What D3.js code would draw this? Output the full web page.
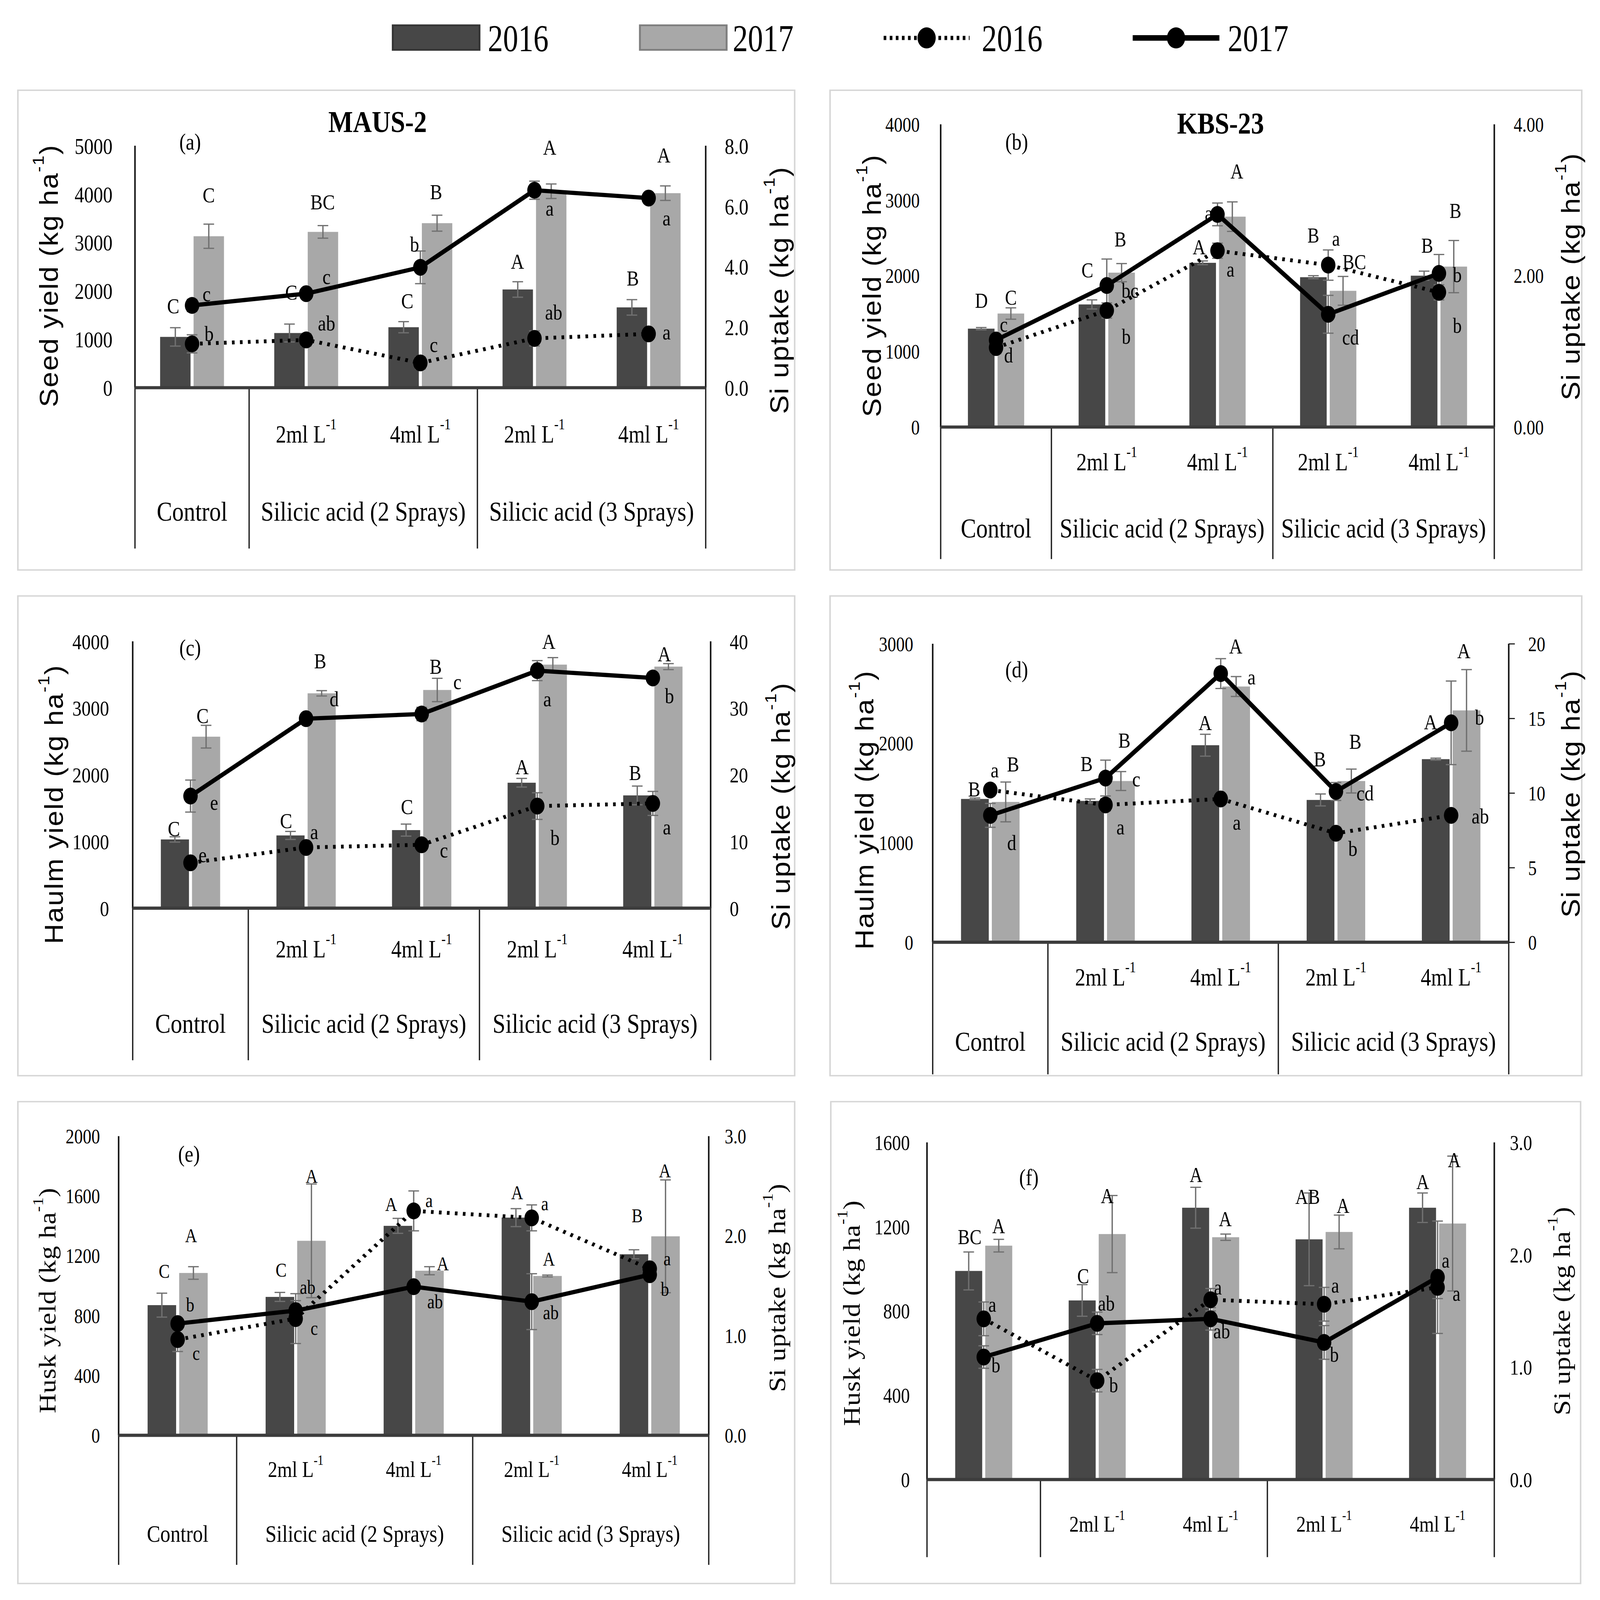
<!DOCTYPE html>
<html>
<head>
<meta charset="utf-8">
<script src="https://cdn.jsdelivr.net/npm/d3@7"></script>
<style>
  html, body { margin: 0; padding: 0; background: #fff; overflow: hidden; }
  #chart svg { display: block; width: 100vw; height: 100vh; }
</style>
</head>
<body>
<div id="chart"></div>
<script>
// ---- categories and labels ----
const categories = ['Control', '2ml 2S', '4ml 2S', '2ml 3S', '4ml 3S'];
const doseLabels = ['', '2ml L', '4ml L', '2ml L', '4ml L'];
const treatmentGroups = [
  { text: 'Control', from: 0, to: 0 },
  { text: 'Silicic acid (2 Sprays)', from: 1, to: 2 },
  { text: 'Silicic acid (3 Sprays)', from: 3, to: 4 }
];
const legendYears = ['2016', '2017'];

// ---- (a) seed yield, MAUS-2 ----
const seedMaus2016 = [1050, 1130, 1250, 2030, 1660];
const seedMaus2017 = [3130, 3220, 3400, 4060, 4020];
const seedMausErr2016 = [190, 185, 115, 160, 160];
const seedMausErr2017 = [250, 130, 165, 150, 150];
const siSeedMaus2016 = [1.45, 1.58, 0.82, 1.63, 1.78];
const siSeedMaus2017 = [2.72, 3.11, 3.98, 6.53, 6.27];
const siSeedMausErr2016 = [0.3, 0.2, 0.2, 0.25, 0.1];
const siSeedMausErr2017 = [0.2, 0.15, 0.54, 0.3, 0.15];
const lettersSeedMaus = [
  ['C', 0, 0.55, 3980], ['BC', 1, 0.54, 3834], ['B', 2, 0.52, 4045], ['A', 3, 0.5, 4968], ['A', 4, 0.5, 4809],
  ['C', 0, -0.62, 1688], ['C', 1, -0.49, 1975], ['C', 2, -0.43, 1796], ['A', 3, -0.56, 2611], ['B', 4, -0.52, 2261],
  ['c', 0, 0.48, 1943], ['b', 0, 0.56, 1115], ['c', 1, 0.67, 2293], ['ab', 1, 0.67, 1338], ['b', 2, -0.19, 2962],
  ['c', 2, 0.44, 892], ['a', 3, 0.5, 3707], ['ab', 3, 0.63, 1560], ['a', 4, 0.59, 3503], ['a', 4, 0.59, 1146]
];

// ---- (b) seed yield, KBS-23 ----
const seedKbs2016 = [1300, 1620, 2170, 1980, 2000];
const seedKbs2017 = [1500, 2040, 2780, 1800, 2120];
const seedKbsErr2016 = [15, 60, 25, 20, 60];
const seedKbsErr2017 = [75, 120, 195, 190, 345];
const siSeedKbs2016 = [1.05, 1.54, 2.33, 2.14, 1.78];
const siSeedKbs2017 = [1.15, 1.87, 2.81, 1.49, 2.03];
const siSeedKbsErr2016 = [0.08, 0.1, 0.1, 0.2, 0.1];
const siSeedKbsErr2017 = [0.05, 0.35, 0.15, 0.25, 0.25];
const lettersSeedKbs = [
  ['D', 0, -0.55, 1669], ['C', 0, 0.56, 1710], ['c', 0, 0.29, 1355], ['d', 0, 0.47, 947],
  ['C', 1, -0.73, 2069], ['B', 1, 0.51, 2478], ['bc', 1, 0.87, 1804], ['b', 1, 0.73, 1192],
  ['A', 2, 0.73, 3376], ['a', 2, -0.33, 2824], ['A', 2, -0.69, 2376], ['a', 2, 0.49, 2078],
  ['B', 3, -0.56, 2527], ['a', 3, 0.29, 2490], ['BC', 3, 0.98, 2180], ['cd', 3, 0.84, 1180],
  ['B', 4, 0.62, 2853], ['B', 4, -0.44, 2396], ['b', 4, 0.69, 2008], ['b', 4, 0.69, 1335]
];

// ---- (c) haulm yield, MAUS-2 ----
const haulmMaus2016 = [1030, 1090, 1170, 1880, 1690];
const haulmMaus2017 = [2570, 3220, 3270, 3650, 3620];
const haulmMausErr2016 = [40, 60, 90, 65, 140];
const haulmMausErr2017 = [170, 40, 175, 105, 45];
const siHaulmMaus2016 = [6.8, 9.1, 9.5, 15.3, 15.7];
const siHaulmMaus2017 = [16.8, 28.4, 29.1, 35.6, 34.5];
const siHaulmMausErr2016 = [0.5, 0.8, 0.8, 2.0, 1.8];
const siHaulmMausErr2017 = [2.4, 0.8, 1.0, 1.5, 0.8];
const lettersHaulmMaus = [
  ['C', 0, 0.43, 2884], ['e', 0, 0.84, 1588], ['C', 0, -0.59, 1194], ['e', 0, 0.43, 801],
  ['B', 1, 0.5, 3704], ['d', 1, 1.0, 3139], ['C', 1, -0.71, 1310], ['a', 1, 0.29, 1148],
  ['B', 2, 0.5, 3625], ['c', 2, 1.27, 3394], ['C', 2, -0.52, 1519], ['c', 2, 0.79, 870],
  ['A', 3, 0.41, 3995], ['a', 3, 0.36, 3139], ['A', 3, -0.54, 2120], ['b', 3, 0.63, 1056],
  ['A', 4, 0.41, 3810], ['b', 4, 0.59, 3185], ['B', 4, -0.63, 2028], ['a', 4, 0.5, 1218]
];

// ---- (d) haulm yield, KBS-23 ----
const haulmKbs2016 = [1440, 1420, 1980, 1430, 1840];
const haulmKbs2017 = [1410, 1620, 2570, 1620, 2330];
const haulmKbsErr2016 = [10, 20, 110, 60, 10];
const haulmKbsErr2017 = [200, 95, 100, 120, 410];
const siHaulmKbs2016 = [10.2, 9.2, 9.6, 7.3, 8.5];
const siHaulmKbs2017 = [8.5, 11.0, 18.0, 10.1, 14.7];
const siHaulmKbsErr2016 = [0.3, 0.4, 0.3, 0.4, 0.3];
const siHaulmKbsErr2017 = [0.8, 1.2, 1.0, 0.6, 2.8];
const lettersHaulmKbs = [
  ['a', 0, 0.16, 1733], ['B', 0, 0.82, 1789], ['B', 0, -0.58, 1540], ['d', 0, 0.77, 1003],
  ['B', 1, -0.68, 1795], ['B', 1, 0.68, 2028], ['c', 1, 1.11, 1640], ['a', 1, 0.54, 1158],
  ['A', 2, 0.54, 2975], ['a', 2, 1.11, 2665], ['A', 2, -0.56, 2205], ['a', 2, 0.58, 1205],
  ['B', 3, -0.58, 1842], ['B', 3, 0.7, 2019], ['cd', 3, 1.05, 1500], ['b', 3, 0.61, 941],
  ['A', 4, 0.46, 2929], ['b', 4, 1.02, 2261], ['A', 4, -0.74, 2214], ['ab', 4, 1.05, 1267]
];

// ---- (e) husk yield, MAUS-2 ----
const huskMaus2016 = [870, 925, 1400, 1455, 1210];
const huskMaus2017 = [1085, 1300, 1100, 1065, 1330];
const huskMausErr2016 = [80, 30, 50, 60, 30];
const huskMausErr2017 = [42, 380, 27, 6, 377];
const siHuskMaus2016 = [0.96, 1.17, 2.25, 2.18, 1.67];
const siHuskMaus2017 = [1.12, 1.25, 1.49, 1.34, 1.61];
const siHuskMausErr2016 = [0.12, 0.25, 0.2, 0.13, 0.05];
const siHuskMausErr2017 = [0.05, 0.1, 0.05, 0.28, 0.05];
const lettersHuskMaus = [
  ['A', 0, 0.47, 1335], ['C', 0, -0.47, 1098], ['b', 0, 0.44, 874], ['c', 0, 0.65, 549],
  ['A', 1, 0.56, 1734], ['C', 1, -0.51, 1105], ['ab', 1, 0.42, 990], ['c', 1, 0.65, 717],
  ['A', 2, -0.79, 1545], ['a', 2, 0.54, 1572], ['A', 2, 1.02, 1147], ['ab', 2, 0.75, 895],
  ['A', 3, -0.51, 1623], ['a', 3, 0.46, 1551], ['A', 3, 0.6, 1178], ['ab', 3, 0.67, 822],
  ['A', 4, 0.53, 1769], ['B', 4, -0.44, 1468], ['a', 4, 0.61, 1182], ['b', 4, 0.53, 979]
];

// ---- (f) husk yield, KBS-23 ----
const huskKbs2016 = [990, 850, 1290, 1140, 1290];
const huskKbs2017 = [1110, 1165, 1150, 1175, 1215];
const huskKbsErr2016 = [90, 75, 97, 220, 70];
const huskKbsErr2017 = [30, 183, 15, 80, 320];
const siHuskKbs2016 = [1.43, 0.88, 1.60, 1.56, 1.71];
const siHuskKbs2017 = [1.09, 1.39, 1.43, 1.22, 1.80];
const siHuskKbsErr2016 = [0.15, 0.1, 0.1, 0.15, 0.1];
const siHuskKbsErr2017 = [0.1, 0.1, 0.1, 0.15, 0.5];
const lettersHuskKbs = [
  ['BC', 0, -0.52, 1150], ['A', 0, 0.55, 1202], ['a', 0, 0.32, 830], ['b', 0, 0.45, 543],
  ['C', 1, -0.52, 964], ['A', 1, 0.37, 1344], ['ab', 1, 0.34, 835], ['b', 1, 0.61, 448],
  ['A', 2, -0.54, 1445], ['A', 2, 0.54, 1235], ['a', 2, 0.27, 912], ['ab', 2, 0.41, 704],
  ['AB', 3, -0.61, 1341], ['A', 3, 0.7, 1299], ['a', 3, 0.41, 920], ['b', 3, 0.38, 592],
  ['A', 4, -0.55, 1411], ['A', 4, 0.62, 1515], ['a', 4, 0.3, 1039], ['a', 4, 0.7, 882]
];

// ---- styling ----
// the drawing is laid out on the reference's 4208 x 4556 frame and the viewBox fits it to the window
const W = 4208, H = 4556;
const DARK = '#474747', LIGHT = '#a8a8a8', ERR = '#707070';
const SERIF = "'Liberation Serif', 'Times New Roman', serif";
const SANS = "'Liberation Sans', Arial, sans-serif";
const SX = 0.78; // the figure's text is horizontally condensed

// panel layout (pixel frame of each sub-chart)
const panels = [
  { box: [47, 257, 2090, 1623], axL: 355, axR: 1856, top: 415, base: 1104, catBottom: 1562,
    yMax: 5000, yStep: 1000, rMax: 8, rStep: 2, rFmt: '.1f', leftLabelX: 296, rightLabelX: 1906, tickSize: 64,
    bars16: seedMaus2016, bars17: seedMaus2017, err16: seedMausErr2016, err17: seedMausErr2017,
    si16: siSeedMaus2016, si17: siSeedMaus2017, siErr16: siSeedMausErr2016, siErr17: siSeedMausErr2017,
    letters: lettersSeedMaus, barW: 80, letterSize: 62,
    title: 'MAUS-2', titleX: 993, titleY: 347, tag: '(a)', tagX: 500, tagY: 404,
    subY: 1236, groupY: 1456, subSize: 70, groupSize: 78,
    leftTitle: 'Seed yield', leftTX: 128, leftTY: 785, rightTX: 2050, rightTY: 826, titleFont: SANS },
  { box: [2183, 257, 4160, 1623], axL: 2474, axR: 3930, top: 354, base: 1216, catBottom: 1592,
    yMax: 4000, yStep: 1000, rMax: 4, rStep: 2, rFmt: '.2f', leftLabelX: 2419, rightLabelX: 3981, tickSize: 58,
    bars16: seedKbs2016, bars17: seedKbs2017, err16: seedKbsErr2016, err17: seedKbsErr2017,
    si16: siSeedKbs2016, si17: siSeedKbs2017, siErr16: siSeedKbsErr2016, siErr17: siSeedKbsErr2017,
    letters: lettersSeedKbs, barW: 70, letterSize: 60,
    title: 'KBS-23', titleX: 3210, titleY: 351, tag: '(b)', tagX: 2674, tagY: 404,
    subY: 1315, groupY: 1504, subSize: 70, groupSize: 78,
    leftTitle: 'Seed yield', leftTX: 2293, leftTY: 813, rightTX: 4131, rightTY: 787, titleFont: SANS },
  { box: [47, 1697, 2090, 3063], axL: 349, axR: 1869, top: 1826, base: 2586, catBottom: 3019,
    yMax: 4000, yStep: 1000, rMax: 40, rStep: 10, rFmt: 'd', leftLabelX: 287, rightLabelX: 1919, tickSize: 62,
    bars16: haulmMaus2016, bars17: haulmMaus2017, err16: haulmMausErr2016, err17: haulmMausErr2017,
    si16: siHaulmMaus2016, si17: siHaulmMaus2017, siErr16: siHaulmMausErr2016, siErr17: siHaulmMausErr2017,
    letters: lettersHaulmMaus, barW: 74, letterSize: 62,
    tag: '(c)', tagX: 500, tagY: 1844,
    subY: 2702, groupY: 2914, subSize: 70, groupSize: 78,
    leftTitle: 'Haulm yield', leftTX: 142, leftTY: 2290, rightTX: 2054, rightTY: 2295, titleFont: SANS },
  { box: [2183, 1697, 4160, 3063], axL: 2453, axR: 3968, top: 1833, base: 2683, catBottom: 3059,
    yMax: 3000, yStep: 1000, rMax: 20, rStep: 5, rFmt: 'd', leftLabelX: 2402, rightLabelX: 4019, tickSize: 58,
    rightTicks: true,
    bars16: haulmKbs2016, bars17: haulmKbs2017, err16: haulmKbsErr2016, err17: haulmKbsErr2017,
    si16: siHaulmKbs2016, si17: siHaulmKbs2017, siErr16: siHaulmKbsErr2016, siErr17: siHaulmKbsErr2017,
    letters: lettersHaulmKbs, barW: 73, letterSize: 62,
    tag: '(d)', tagX: 2674, tagY: 1906,
    subY: 2782, groupY: 2966, subSize: 70, groupSize: 78,
    leftTitle: 'Haulm yield', leftTX: 2274, leftTY: 2306, rightTX: 4131, rightTY: 2260, titleFont: SANS },
  { box: [47, 3137, 2090, 4509], axL: 312, axR: 1864, top: 3235, base: 4087, catBottom: 4456,
    yMax: 2000, yStep: 400, rMax: 3, rStep: 1, rFmt: '.1f', leftLabelX: 263, rightLabelX: 1906, tickSize: 58,
    bars16: huskMaus2016, bars17: huskMaus2017, err16: huskMausErr2016, err17: huskMausErr2017,
    si16: siHuskMaus2016, si17: siHuskMaus2017, siErr16: siHuskMausErr2016, siErr17: siHuskMausErr2017,
    letters: lettersHuskMaus, barW: 75, letterSize: 56,
    tag: '(e)', tagX: 497, tagY: 3286,
    subY: 4184, groupY: 4367, subSize: 64, groupSize: 68,
    leftTitle: 'Husk yield', leftTX: 125, leftTY: 3703, rightTX: 2044, rightTY: 3667, titleFont: SERIF },
  { box: [2185, 3137, 4157, 4509], axL: 2438, axR: 3930, top: 3253, base: 4213, catBottom: 4434,
    yMax: 1600, yStep: 400, rMax: 3, rStep: 1, rFmt: '.1f', leftLabelX: 2393, rightLabelX: 3971, tickSize: 60,
    bars16: huskKbs2016, bars17: huskKbs2017, err16: huskKbsErr2016, err17: huskKbsErr2017,
    si16: siHuskKbs2016, si17: siHuskKbs2017, siErr16: siHuskKbsErr2016, siErr17: siHuskKbsErr2017,
    letters: lettersHuskKbs, barW: 71, letterSize: 60,
    tag: '(f)', tagX: 2706, tagY: 3353,
    subY: 4340, groupY: null, subSize: 64, groupSize: 68,
    leftTitle: 'Husk yield', leftTX: 2240, leftTY: 3739, rightTX: 4108, rightTY: 3733, titleFont: SERIF }
];

const svg = d3.select('#chart').append('svg')
  .attr('viewBox', [0, 0, W, H])
  .attr('preserveAspectRatio', 'none');
svg.append('rect').attr('width', W).attr('height', H).attr('fill', '#fff');

// condensed serif text, centred on (x, y)
function label(g, x, y, text, o = {}) {
  const t = g.append('text')
    .attr('transform', `translate(${x},${y}) scale(${o.sx ?? SX},1)`)
    .attr('text-anchor', o.anchor || 'middle')
    .attr('dominant-baseline', o.baseline || 'central')
    .style('font-family', o.font || SERIF)
    .style('font-size', (o.size || 60) + 'px')
    .style('font-weight', o.weight || 'normal')
    .attr('fill', '#000');
  if (text != null) t.text(text);
  return t;
}

function withSup(t, before, sup, after, size) {
  t.append('tspan').text(before);
  t.append('tspan').attr('dy', -size * 0.4).style('font-size', (size * 0.62) + 'px').text(sup);
  if (after) t.append('tspan').attr('dy', size * 0.4).text(after);
}

function errorBars(g, pts, y) {
  const cap = 14;
  const eg = g.append('g').attr('stroke', ERR).attr('stroke-width', 3.5);
  pts.forEach(p => {
    eg.append('line').attr('x1', p.x).attr('x2', p.x).attr('y1', y(p.v - p.e)).attr('y2', y(p.v + p.e));
    [p.v - p.e, p.v + p.e].forEach(v =>
      eg.append('line').attr('x1', p.x - cap).attr('x2', p.x + cap).attr('y1', y(v)).attr('y2', y(v)));
  });
}

function drawPanel(p) {
  const g = svg.append('g');

  g.append('rect')
    .attr('x', p.box[0]).attr('y', p.box[1])
    .attr('width', p.box[2] - p.box[0]).attr('height', p.box[3] - p.box[1])
    .attr('fill', 'none').attr('stroke', '#d6d6d6').attr('stroke-width', 4);

  const x = d3.scaleBand().domain(d3.range(categories.length)).range([p.axL, p.axR]);
  const yL = d3.scaleLinear().domain([0, p.yMax]).range([p.base, p.top]);
  const yR = d3.scaleLinear().domain([0, p.rMax]).range([p.base, p.top]);
  const cx = i => x(i) + x.bandwidth() / 2;
  const bw = p.barW;
  const gap = 4;

  // bars + their error bars
  const series = [
    { vals: p.bars16, errs: p.err16, left: true, fill: DARK },
    { vals: p.bars17, errs: p.err17, left: false, fill: LIGHT }
  ];
  series.forEach(s => {
    const bx = i => s.left ? cx(i) - bw - gap : cx(i) + gap;
    g.append('g').selectAll('rect').data(s.vals).join('rect')
      .attr('x', (d, i) => bx(i))
      .attr('y', d => yL(d))
      .attr('width', bw)
      .attr('height', d => p.base - yL(d))
      .attr('fill', s.fill);
    errorBars(g, s.vals.map((v, i) => ({ x: bx(i) + bw / 2, v, e: s.errs[i] })), yL);
  });

  // category frame lines below the baseline
  [p.axL, x(1), x(3), p.axR].forEach(xx =>
    g.append('line').attr('x1', xx).attr('x2', xx).attr('y1', p.base).attr('y2', p.catBottom)
      .attr('stroke', '#222').attr('stroke-width', 3.5));
  // left and right value axes
  [p.axL, p.axR].forEach(xx =>
    g.append('line').attr('x1', xx).attr('x2', xx).attr('y1', p.top).attr('y2', p.base)
      .attr('stroke', '#111').attr('stroke-width', 4));
  g.append('line').attr('x1', p.axL).attr('x2', p.axR).attr('y1', p.base).attr('y2', p.base)
    .attr('stroke', '#3c3c3c').attr('stroke-width', 9);

  if (p.rightTicks) {
    const rt = g.append('g').attr('transform', `translate(${p.axR},0)`)
      .call(d3.axisRight(yR).tickValues(d3.range(0, p.rMax + 1e-9, p.rStep)).tickSize(16).tickFormat(''));
    rt.select('.domain').remove();
    rt.selectAll('line').attr('stroke', '#111').attr('stroke-width', 3);
  }

  // tick labels
  const styleTicks = (sel) => {
    sel.select('.domain').remove();
    sel.selectAll('text')
      .attr('x', 0).attr('dy', '0.35em')
      .attr('transform', `scale(${SX},1)`)
      .attr('fill', '#000')
      .style('font-family', SERIF)
      .style('font-size', p.tickSize + 'px');
  };
  g.append('g').attr('transform', `translate(${p.leftLabelX},0)`)
    .call(d3.axisLeft(yL).tickValues(d3.range(0, p.yMax + 1, p.yStep))
      .tickSize(0).tickPadding(0).tickFormat(d3.format('d')))
    .call(styleTicks);
  g.append('g').attr('transform', `translate(${p.rightLabelX},0)`)
    .call(d3.axisRight(yR).tickValues(d3.range(0, p.rMax + 1e-9, p.rStep))
      .tickSize(0).tickPadding(0).tickFormat(d3.format(p.rFmt)))
    .call(styleTicks);

  // Si uptake lines
  const line = d3.line().x((d, i) => cx(i)).y(d => yR(d));
  errorBars(g, p.si16.map((v, i) => ({ x: cx(i), v, e: p.siErr16[i] })), yR);
  errorBars(g, p.si17.map((v, i) => ({ x: cx(i), v, e: p.siErr17[i] })), yR);
  g.append('path').datum(p.si16).attr('d', line)
    .attr('fill', 'none').attr('stroke', '#000').attr('stroke-width', 11)
    .attr('stroke-dasharray', '7 14');
  g.append('path').datum(p.si17).attr('d', line)
    .attr('fill', 'none').attr('stroke', '#000').attr('stroke-width', 12)
    .attr('stroke-linejoin', 'round');
  [p.si16, p.si17].forEach(vals =>
    g.append('g').selectAll('ellipse').data(vals).join('ellipse')
      .attr('cx', (d, i) => cx(i)).attr('cy', d => yR(d))
      .attr('rx', 19).attr('ry', 24).attr('fill', '#000'));

  // significance letters
  p.letters.forEach(([t, i, dx, v]) => label(g, cx(i) + dx * bw, yL(v), t, { size: p.letterSize }));

  // category labels
  doseLabels.forEach((d, i) => {
    if (!d) return;
    const t = label(g, cx(i), p.subY, null, { size: p.subSize });
    withSup(t, d, '-1', null, p.subSize);
  });
  if (p.groupY != null) {
    treatmentGroups.forEach(tg =>
      label(g, (cx(tg.from) + cx(tg.to)) / 2, p.groupY, tg.text, { size: p.groupSize }));
  }

  // titles and panel tag
  if (p.title) label(g, p.titleX, p.titleY, p.title, { size: 88, weight: 'bold' });
  label(g, p.tagX, p.tagY, p.tag, { size: 66 });

  const vTitle = (cxp, cyp, text) => {
    const sans = p.titleFont === SANS;
    const size = sans ? 80 : 78;
    const t = g.append('text')
      .attr('transform', `translate(${cxp},${cyp}) rotate(-90) scale(1,${sans ? 0.85 : 0.8})`)
      .attr('text-anchor', 'middle').attr('dominant-baseline', 'central')
      .style('font-family', p.titleFont).style('font-size', size + 'px')
      .style('letter-spacing', sans ? '3px' : '1px')
      .attr('fill', '#000');
    withSup(t, text + ' (kg ha', '-1', ')', size);
  };
  vTitle(p.leftTX, p.leftTY, p.leftTitle);
  vTitle(p.rightTX, p.rightTY, 'Si uptake');
}

panels.forEach(drawPanel);

// ---- legend ----
const lg = svg.append('g');
const legendItems = [
  { kind: 'bar', fill: DARK, x0: 1033, x1: 1261, tx: 1283 },
  { kind: 'bar', fill: LIGHT, x0: 1683, x1: 1911, tx: 1927 },
  { kind: 'dot', x0: 2324, x1: 2550, tx: 2582 },
  { kind: 'solid', x0: 2979, x1: 3207, tx: 3229 }
];
legendItems.forEach((it, k) => {
  const ly = 108;
  if (it.kind === 'bar') {
    lg.append('rect').attr('x', it.x0).attr('y', 72).attr('width', it.x1 - it.x0).attr('height', 70)
      .attr('fill', it.fill).attr('stroke', d3.color(it.fill).darker(0.8)).attr('stroke-width', 5);
  } else {
    lg.append('line').attr('x1', it.x0).attr('x2', it.x1).attr('y1', ly).attr('y2', ly)
      .attr('stroke', '#000').attr('stroke-width', it.kind === 'dot' ? 12 : 16)
      .attr('stroke-dasharray', it.kind === 'dot' ? '7 9' : null);
    lg.append('ellipse').attr('cx', (it.x0 + it.x1) / 2).attr('cy', ly).attr('rx', 24).attr('ry', 30).attr('fill', '#000');
  }
  label(lg, it.tx, 110, legendYears[k % 2], { size: 108, anchor: 'start', sx: 0.74 });
});
</script>
</body>
</html>
